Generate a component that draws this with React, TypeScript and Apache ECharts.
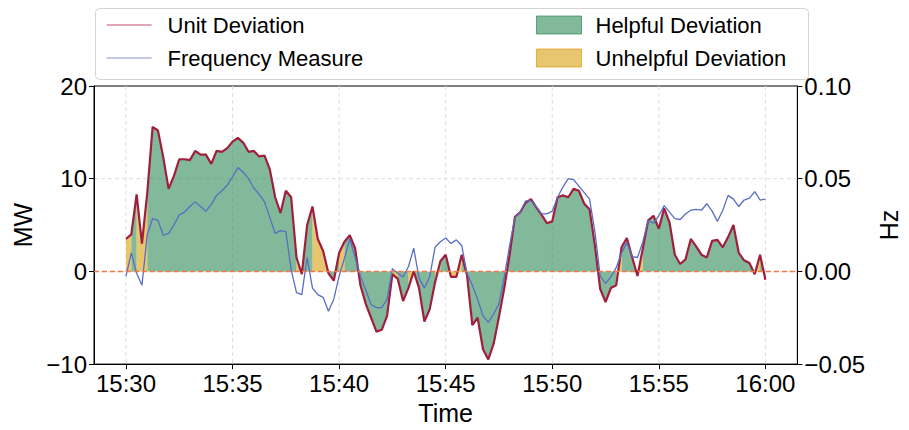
import React, { useEffect, useRef } from "react";
import * as echarts from "echarts";

// minutes after 15:30, one sample every quarter minute
const SAMPLE_MINUTES = 0.25;

// Unit deviation, MW
const unitDeviation: number[] = [
  3.5, 4.0, 8.3, 3.0, 8.5, 15.6, 15.2, 12.3, 8.9, 10.3,
  12.1, 12.1, 12.0, 13.0, 12.6, 12.6, 11.6, 13.0, 12.9, 13.3,
  14.0, 14.4, 13.9, 12.9, 13.0, 12.4, 12.5, 11.0, 8.0, 6.3,
  8.7, 8.0, 1.5, -0.3, 5.0, 7.0, 3.5, 2.2, -0.2, -1.0,
  2.0, 3.2, 3.9, 2.5, -1.5, -3.5, -5.0, -6.5, -6.3, -4.8,
  -0.3, -0.8, -3.2, -1.8, 0.0, -1.8, -5.4, -4.1, -1.2, 1.1,
  1.8, -0.6, -0.6, 1.8, -0.4, -5.8, -5.0, -8.4, -9.5, -7.8,
  -4.9, -1.8, 1.8, 5.9, 6.4, 7.4, 7.8, 6.9, 6.1, 5.2,
  5.4, 8.0, 8.2, 8.0, 8.9, 8.7, 7.3, 6.7, 2.8, -1.9,
  -3.3, -1.8, -1.5, 2.6, 3.6, 1.5, -0.5, 2.5, 5.5, 6.0,
  4.6, 6.8, 5.3, 1.8, 0.8, 1.3, 3.5, 2.7, 1.8, 1.5,
  3.3, 3.4, 2.6, 3.7, 5.0, 2.0, 1.2, 0.9, -0.3, 1.8,
  -0.9,
];

// Frequency measure, Hz
const frequencyMeasure: number[] = [
  -0.0025, 0.01, -0.001, -0.0075, 0.02, 0.0285, 0.0275, 0.0195, 0.0205, 0.025,
  0.0305, 0.032, 0.035, 0.0375, 0.035, 0.0325, 0.036, 0.041, 0.0435, 0.0465,
  0.051, 0.056, 0.0535, 0.05, 0.045, 0.0415, 0.0375, 0.029, 0.0205, 0.022,
  0.0215, 0.001, -0.0115, -0.0125, 0.0075, -0.009, -0.0125, -0.014, -0.0215, -0.015,
  -0.0025, 0.007, 0.0175, 0.0075, -0.0025, -0.01, -0.018, -0.0195, -0.0195, -0.015,
  0.0015, -0.001, -0.003, 0.0025, 0.0125, -0.0035, -0.009, -0.003, 0.013, 0.016,
  0.018, 0.015, 0.017, 0.014, -0.001, -0.0075, -0.015, -0.024, -0.0275, -0.023,
  -0.0175, -0.003, 0.014, 0.029, 0.032, 0.038, 0.038, 0.035, 0.031, 0.031,
  0.0325, 0.04, 0.0455, 0.05, 0.0495, 0.046, 0.0425, 0.039, 0.0215, -0.0025,
  -0.0065, -0.003, 0.002, 0.01, 0.0155, 0.008, 0.0075, 0.016, 0.0275, 0.026,
  0.03, 0.0355, 0.032, 0.0285, 0.028, 0.031, 0.033, 0.0335, 0.033, 0.0365,
  0.0325, 0.027, 0.033, 0.041, 0.039, 0.035, 0.0385, 0.0395, 0.043, 0.0385,
  0.039,
];

const tickMinutes: number[] = [0, 5, 10, 15, 20, 25, 30];
const tickLabels: string[] = ["15:30", "15:35", "15:40", "15:45", "15:50", "15:55", "16:00"];
const mwGridValues: number[] = [0, 10];

const FONT = "Liberation Sans, Arial, sans-serif";
const RED = "#a01f3d";
const BLUE = "#5a6dc4";
const GREEN = "rgba(46,139,87,0.6)";
const YELLOW = "rgba(217,158,15,0.6)";
const GRID = "#dedede";
const ZERO = "#f27a48";

type Run = { s: number; e: number };

export default function App() {
  const ref = useRef<HTMLDivElement>(null);

  useEffect(() => {
    document.body.style.margin = "0";
    if (!ref.current) return;
    const chart = echarts.init(ref.current, null, { renderer: "svg" });

    const times = unitDeviation.map((_, i) => i * SAMPLE_MINUTES);

    // contiguous runs of helpful / unhelpful intervals
    const helpfulRuns: Run[] = [];
    const unhelpfulRuns: Run[] = [];
    let start = 0;
    const isHelpful = (i: number) => unitDeviation[i] * frequencyMeasure[i] >= 0;
    for (let i = 1; i <= unitDeviation.length - 1; i++) {
      if (i === unitDeviation.length - 1 || isHelpful(i) !== isHelpful(start)) {
        const run = { s: start, e: i };
        (isHelpful(start) ? helpfulRuns : unhelpfulRuns).push(run);
        start = i;
      }
    }
    const runData = (runs: Run[]) =>
      runs.map((r) => {
        const seg = unitDeviation.slice(r.s, r.e + 1);
        return [times[r.s], times[r.e], Math.min(0, ...seg), Math.max(0, ...seg)];
      });

    const makeRender = (runs: Run[], color: string) => (params: any, api: any) => {
      const r = runs[params.dataIndex];
      const pts: number[][] = [api.coord([times[r.s], 0])];
      for (let i = r.s; i <= r.e; i++) pts.push(api.coord([times[i], unitDeviation[i]]));
      pts.push(api.coord([times[r.e], 0]));
      return { type: "polygon", shape: { points: pts }, style: { fill: color } };
    };

    const vGridRender = (params: any, api: any) => {
      const cs = params.coordSys;
      const x = api.coord([api.value(0), 0])[0];
      return {
        type: "line",
        shape: { x1: x, y1: cs.y, x2: x, y2: cs.y + cs.height },
        style: { stroke: GRID, lineWidth: 1, lineDash: [4, 3] },
      };
    };
    const hGridRender = (color: string, dash: number[], width: number) => (params: any, api: any) => {
      const cs = params.coordSys;
      const y = api.coord([0, api.value(0)])[1];
      return {
        type: "line",
        shape: { x1: cs.x, y1: y, x2: cs.x + cs.width, y2: y },
        style: { stroke: color, lineWidth: width, lineDash: dash },
      };
    };

    const minuteLabel = (v: number) => {
      const idx = tickMinutes.indexOf(v);
      return idx >= 0 ? tickLabels[idx] : "";
    };

    const axisLine = { show: true, onZero: false, lineStyle: { color: "#000", width: 1 } };

    chart.setOption({
      animation: false,
      textStyle: { fontFamily: FONT },
      grid: {
        left: 94,
        top: 86,
        width: 711,
        height: 281,
        show: true,
        borderColor: "#000",
        borderWidth: 1,
        backgroundColor: "transparent",
      },
      graphic: [
        {
          type: "rect",
          left: 95,
          top: 8,
          shape: { width: 713, height: 71, r: 4 },
          style: { fill: "rgba(255,255,255,0.8)", stroke: "#d4d4d4", lineWidth: 1 },
          z: 0,
        },
      ],
      legend: [
        {
          left: 101,
          top: 9,
          orient: "vertical",
          itemWidth: 45,
          itemHeight: 18,
          itemGap: 11,
          textStyle: { fontSize: 22, fontFamily: FONT, color: "#000", padding: [0, 0, 0, 11], lineHeight: 22 },
          data: [
            { name: "Unit Deviation", lineStyle: { color: "#c2506c", width: 1.2 }, itemStyle: { opacity: 0 } },
            { name: "Frequency Measure", lineStyle: { color: "#8492d2", width: 1.2 }, itemStyle: { opacity: 0 } },
          ],
          z: 5,
        },
        {
          left: 531,
          top: 9,
          orient: "vertical",
          itemWidth: 45,
          itemHeight: 18,
          itemGap: 11,
          textStyle: { fontSize: 22, fontFamily: FONT, color: "#000", padding: [0, 0, 0, 9], lineHeight: 22 },
          data: [
            { name: "Helpful Deviation", icon: "rect", itemStyle: { color: GREEN, borderColor: "rgba(46,139,87,0.7)", borderWidth: 1 } },
            { name: "Unhelpful Deviation", icon: "rect", itemStyle: { color: YELLOW, borderColor: "rgba(217,158,15,0.7)", borderWidth: 1 } },
          ],
          z: 5,
        },
      ],
      xAxis: {
        type: "value",
        min: -1.5,
        max: 31.5,
        name: "Time",
        nameLocation: "middle",
        nameGap: 34,
        nameTextStyle: { fontSize: 25, color: "#000", fontFamily: FONT },
        splitLine: { show: false },
        axisLine,
        axisTick: { show: true, length: 5, lineStyle: { color: "#000" }, customValues: tickMinutes },
        axisLabel: {
          customValues: tickMinutes,
          formatter: minuteLabel,
          fontSize: 24,
          color: "#000",
          margin: 7,
          fontFamily: FONT,
        },
      },
      yAxis: [
        {
          type: "value",
          min: -10,
          max: 20,
          interval: 10,
          position: "left",
          name: "MW",
          nameLocation: "middle",
          nameRotate: 90,
          nameGap: 58,
          nameTextStyle: { fontSize: 25, color: "#000", fontFamily: FONT },
          axisLine,
          axisTick: { show: true, length: 5, lineStyle: { color: "#000" } },
          splitLine: { show: false },
          axisLabel: {
            fontSize: 24,
            color: "#000",
            margin: 7,
            fontFamily: FONT,
            formatter: (v: number) => (v < 0 ? "\u2212" + Math.abs(v) : String(v)),
          },
        },
        {
          type: "value",
          min: -0.05,
          max: 0.1,
          interval: 0.05,
          position: "right",
          name: "Hz",
          nameLocation: "middle",
          nameRotate: 90,
          nameGap: 75,
          nameTextStyle: { fontSize: 25, color: "#000", fontFamily: FONT },
          axisLine,
          axisTick: { show: true, length: 5, lineStyle: { color: "#000" } },
          splitLine: { show: false },
          axisLabel: {
            fontSize: 24,
            color: "#000",
            margin: 7,
            fontFamily: FONT,
            formatter: (v: number) =>
              v < -1e-9 ? "\u2212" + Math.abs(v).toFixed(2) : Math.abs(v).toFixed(2),
          },
        },
      ],
      series: [
        {
          name: "gridX",
          type: "custom",
          renderItem: vGridRender,
          encode: { x: 0 },
          data: tickMinutes.map((t) => [t]),
          silent: true,
          z: 0,
        },
        {
          name: "gridY",
          type: "custom",
          renderItem: hGridRender(GRID, [4, 3], 1),
          encode: { y: 0 },
          data: mwGridValues.map((v) => [v]),
          silent: true,
          z: 0,
        },
        {
          name: "Helpful Deviation",
          type: "custom",
          renderItem: makeRender(helpfulRuns, GREEN),
          itemStyle: { color: GREEN },
          encode: { x: [0, 1], y: [2, 3] },
          data: runData(helpfulRuns),
          clip: true,
          z: 1,
          silent: true,
        },
        {
          name: "Unhelpful Deviation",
          type: "custom",
          renderItem: makeRender(unhelpfulRuns, YELLOW),
          itemStyle: { color: YELLOW },
          encode: { x: [0, 1], y: [2, 3] },
          data: runData(unhelpfulRuns),
          clip: true,
          z: 1,
          silent: true,
        },
        {
          name: "Unit Deviation",
          type: "line",
          symbol: "none",
          data: times.map((t, i) => [t, unitDeviation[i]]),
          lineStyle: { color: RED, width: 2.2 },
          itemStyle: { color: RED },
          z: 3,
        },
        {
          name: "Frequency Measure",
          type: "line",
          yAxisIndex: 1,
          symbol: "none",
          data: times.map((t, i) => [t, frequencyMeasure[i]]),
          lineStyle: { color: BLUE, width: 1.3 },
          itemStyle: { color: BLUE },
          z: 4,
        },
        {
          name: "zeroLine",
          type: "custom",
          renderItem: hGridRender(ZERO, [5, 3], 1.5),
          encode: { y: 0 },
          data: [[0]],
          silent: true,
          z: 6,
        },
      ],
    });

    return () => chart.dispose();
  }, []);

  return <div ref={ref} style={{ width: 909, height: 430 }} />;
}
